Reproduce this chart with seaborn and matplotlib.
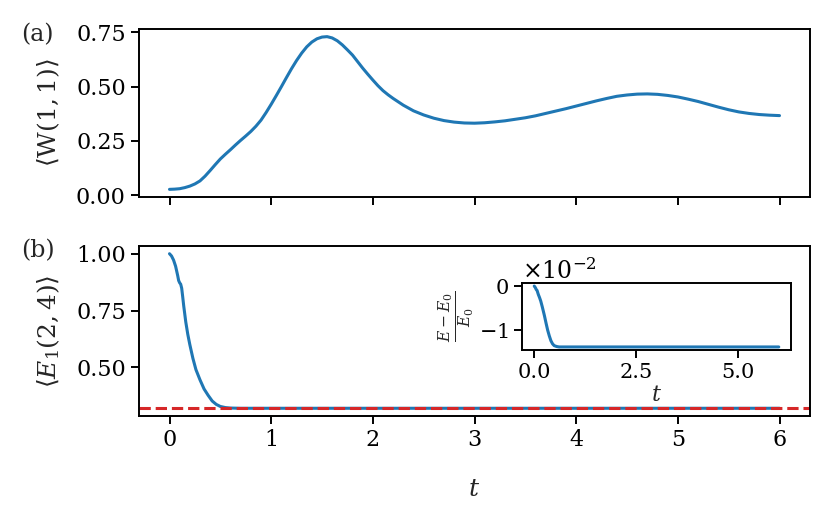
import numpy as np
import pandas as pd
import matplotlib
matplotlib.use("Agg")
import matplotlib.pyplot as plt
import matplotlib.ticker as mticker
import seaborn as sns

# ── Data ──────────────────────────────────────────────────────────────────────
t_w = [0.0, 0.05, 0.1, 0.15, 0.2, 0.25, 0.3, 0.35, 0.4, 0.45, 0.5, 0.55, 0.6,
       0.65, 0.7, 0.75, 0.8, 0.85, 0.9, 0.95, 1.0, 1.05, 1.1, 1.15, 1.2, 1.25,
       1.3, 1.35, 1.4, 1.45, 1.5, 1.55, 1.6, 1.65, 1.7, 1.75, 1.8, 1.85, 1.9,
       1.95, 2.0, 2.05, 2.1, 2.15, 2.2, 2.3, 2.4, 2.5, 2.6, 2.7, 2.8, 2.9, 3.0,
       3.1, 3.2, 3.3, 3.4, 3.5, 3.6, 3.7, 3.8, 3.9, 4.0, 4.1, 4.2, 4.3, 4.4,
       4.5, 4.6, 4.7, 4.8, 4.9, 5.0, 5.1, 5.2, 5.3, 5.4, 5.5, 5.6, 5.7, 5.8,
       5.9, 6.0]
w_vals = [0.026, 0.027, 0.029, 0.034, 0.041, 0.051, 0.065, 0.087, 0.113, 0.140,
          0.166, 0.188, 0.209, 0.231, 0.252, 0.272, 0.293, 0.317, 0.345, 0.380,
          0.418, 0.458, 0.499, 0.541, 0.582, 0.620, 0.654, 0.683, 0.705, 0.720,
          0.728, 0.730, 0.724, 0.711, 0.692, 0.669, 0.645, 0.615, 0.585, 0.557,
          0.530, 0.504, 0.481, 0.462, 0.445, 0.414, 0.388, 0.369, 0.354, 0.343,
          0.336, 0.332, 0.331, 0.333, 0.337, 0.342, 0.349, 0.356, 0.365, 0.376,
          0.387, 0.398, 0.410, 0.422, 0.434, 0.445, 0.455, 0.461, 0.465, 0.466,
          0.464, 0.459, 0.452, 0.442, 0.431, 0.418, 0.405, 0.393, 0.383, 0.376,
          0.371, 0.368, 0.366]

t_e = [0.0, 0.02, 0.04, 0.06, 0.08, 0.09, 0.1, 0.11, 0.12, 0.13, 0.14, 0.15,
       0.16, 0.18, 0.2, 0.23, 0.26, 0.3, 0.34, 0.38, 0.42, 0.46, 0.5, 0.55,
       0.6, 0.7, 1.0, 2.0, 3.0, 4.0, 5.0, 6.0]
e_vals = [1.0, 0.99, 0.972, 0.945, 0.905, 0.882, 0.872, 0.866, 0.848, 0.81,
          0.77, 0.735, 0.70, 0.645, 0.60, 0.54, 0.49, 0.445, 0.405, 0.377,
          0.352, 0.337, 0.328, 0.323, 0.321, 0.32, 0.32, 0.32, 0.32, 0.32,
          0.32, 0.32]
e_ground = 0.32

t_rel = [0.0, 0.03, 0.05, 0.07, 0.1, 0.13, 0.16, 0.2, 0.25, 0.29, 0.33, 0.37,
         0.41, 0.45, 0.49, 0.55, 0.61, 0.8, 1.0, 2.0, 3.0, 4.0, 5.0, 6.0]
rel_vals = [0.0, -0.0004, -0.0008, -0.0010, -0.0019, -0.0026, -0.0034,
            -0.0048, -0.0067, -0.0084, -0.0100, -0.0113, -0.0124, -0.0131,
            -0.0135, -0.0137, -0.0138, -0.0138, -0.0138, -0.0138, -0.0138,
            -0.0138, -0.0138, -0.0138]

BLUE = "#1f77b4"
RED = "#d62728"

# ── Style ─────────────────────────────────────────────────────────────────────
sns.set_theme(style="ticks")
plt.rcParams.update({
    "font.family": "DejaVu Serif",
    "mathtext.fontset": "dejavuserif",
    "font.size": 16,
    "axes.edgecolor": "black",
    "axes.linewidth": 1.4,
    "xtick.color": "black",
    "ytick.color": "black",
    "xtick.labelsize": 16,
    "ytick.labelsize": 16,
    "xtick.major.size": 6,
    "ytick.major.size": 6,
    "xtick.major.width": 1.4,
    "ytick.major.width": 1.4,
    "xtick.direction": "out",
    "ytick.direction": "out",
    "axes.labelsize": 18,
})

fig = plt.figure(figsize=(8.31, 5.23), dpi=100)
W, H = 831, 523
ax1 = fig.add_axes([139 / W, 1 - 197 / H, 671 / W, 168 / H])
ax2 = fig.add_axes([139 / W, 1 - 416 / H, 671 / W, 170 / H], sharex=ax1)

# ── (a) W(1,1) ────────────────────────────────────────────────────────────────
sns.lineplot(x=t_w, y=w_vals, ax=ax1, color=BLUE, linewidth=2.2, sort=False)
ax1.set_yticks([0.0, 0.25, 0.5, 0.75])
ax1.yaxis.set_major_formatter(mticker.FormatStrFormatter("%.2f"))
ax1.set_ylabel(r"$\langle \mathrm{W}(1,1)\rangle$", labelpad=10)
ax1.tick_params(labelbottom=False)
ax1.set_xlabel("")

# ── (b) E1(2,4) ───────────────────────────────────────────────────────────────
sns.lineplot(x=t_e, y=e_vals, ax=ax2, color=BLUE, linewidth=2.2, sort=False)
ax2.axhline(e_ground, color=RED, linestyle="--", linewidth=2.2)
ax2.set_yticks([0.5, 0.75, 1.0])
ax2.yaxis.set_major_formatter(mticker.FormatStrFormatter("%.2f"))
ax2.set_ylabel(r"$\langle E_1(2,4)\rangle$", labelpad=10)
ax2.set_xlabel(r"$t$", labelpad=19)
ax2.set_xticks(range(7))
ax1.set_xlim(-0.3, 6.3)

fig.align_ylabels([ax1, ax2])

# inset: relative energy
axin = fig.add_axes([522 / W, 1 - 350 / H, 269 / W, 67 / H])
sns.lineplot(x=t_rel, y=rel_vals, ax=axin, color=BLUE, linewidth=2.2, sort=False)
axin.set_xticks([0.0, 2.5, 5.0])
axin.xaxis.set_major_formatter(mticker.FormatStrFormatter("%.1f"))
axin.set_yticks([-0.01, 0.0])
fmt = mticker.ScalarFormatter(useMathText=True)
fmt.set_powerlimits((0, 0))
axin.yaxis.set_major_formatter(fmt)
axin.tick_params(labelsize=15)
axin.yaxis.get_offset_text().set_fontsize(17)
axin.set_xlabel(r"$t$", fontsize=16, labelpad=1)
axin.set_ylabel(r"$\frac{E-E_0}{E_0}$", fontsize=16, labelpad=2)

fig.text(21 / W, 1 - 35 / H, "(a)", fontsize=17, va="center", ha="left")
fig.text(21 / W, 1 - 251 / H, "(b)", fontsize=17, va="center", ha="left")

fig.savefig("out.png", dpi=100)
plt.close(fig)
